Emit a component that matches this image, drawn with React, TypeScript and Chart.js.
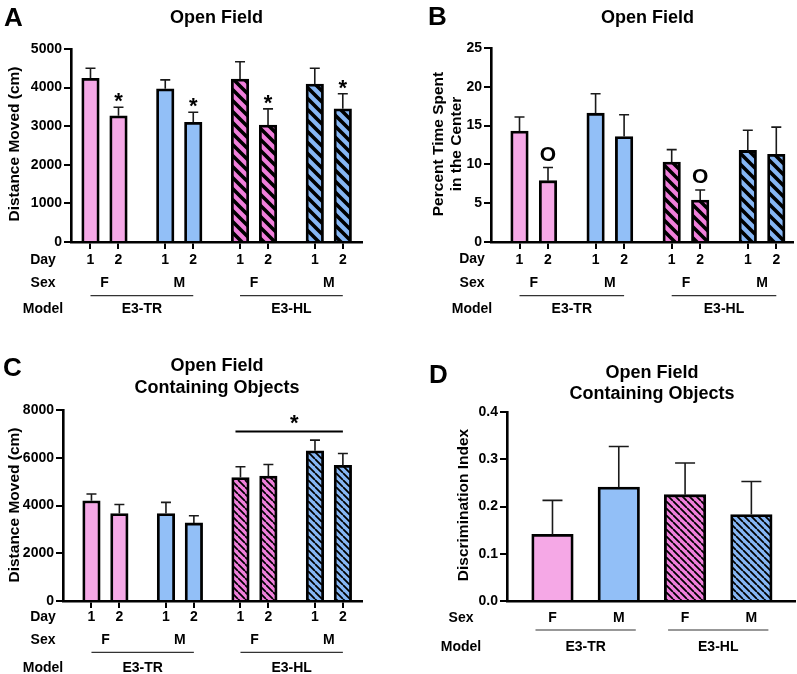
import React, { useEffect, useRef } from 'react';
import { Chart, registerables } from 'chart.js';

Chart.register(...registerables);

// ---------------- data ----------------
const dayLabels = ['1', '2', '1', '2', '1', '2', '1', '2'];
const sexLabels = ['F', 'M', 'F', 'M'];
const modelLabels = ['E3-TR', 'E3-HL'];
const rowNamesFull = ['Day', 'Sex', 'Model'];
const rowNamesShort = ['Sex', 'Model'];

// A: Open Field, distance moved (cm)
const distanceOF = [4240, 3270, 3970, 3100, 4220, 3030, 4090, 3450];
const distanceOFSem = [260, 220, 230, 260, 450, 420, 410, 390];
// B: Open Field, percent time in center
const centerTime = [14.3, 7.9, 16.6, 13.6, 10.3, 5.4, 11.8, 11.3];
const centerTimeSem = [1.8, 1.7, 2.5, 2.8, 1.6, 1.3, 2.6, 3.5];
// C: Open Field containing objects, distance moved (cm)
const distanceObj = [4200, 3660, 3660, 3270, 5170, 5230, 6290, 5680];
const distanceObjSem = [280, 380, 470, 300, 450, 490, 450, 500];
// D: discrimination index
const discrimination = [0.141, 0.241, 0.225, 0.183];
const discriminationSem = [0.072, 0.086, 0.067, 0.07];

const fills8 = ['pink', 'pink', 'blue', 'blue', 'pinkHatch', 'pinkHatch', 'blueHatch', 'blueHatch'];
const fills4 = ['pink', 'blue', 'pinkHatch', 'blueHatch'];

const starSymbol = '*';
const ringSymbol = 'O';
const bracketValueC = 7100;

// ---------------- styling ----------------
const FONT = "'Liberation Sans', Arial, Helvetica, sans-serif";
const PINK = '#F5A8E6';
const PINK_H = '#F07FDB';
const BLUE = '#92BFF7';
const BLUE_H = '#86B6F4';

const pairPos = (n: number, gap: number) =>
  Array.from({ length: n }, (_, i) => Math.floor(i / 2) * gap + (i % 2));
const seqPos = (n: number) => Array.from({ length: n }, (_, i) => i);

function hatch(base: string, period: number, lw: number): CanvasPattern {
  const c = document.createElement('canvas');
  c.width = period;
  c.height = period;
  const g = c.getContext('2d')!;
  g.fillStyle = base;
  g.fillRect(0, 0, period, period);
  g.strokeStyle = '#000';
  g.lineWidth = lw;
  g.lineCap = 'square';
  g.beginPath();
  for (const k of [-1, 0, 1]) {
    g.moveTo(k * period, 0);
    g.lineTo(k * period + period, period);
  }
  g.stroke();
  return g.createPattern(c, 'repeat')!;
}

const panels: any[] = [
  {
    values: distanceOF, sems: distanceOFSem, positions: pairPos(8, 2.67), tickLabels: dayLabels, fills: fills8,
    canvas: { left: 0, top: 0, width: 400, height: 340 },
    area: { left: 71, top: 49, right: 362, bottom: 242 },
    xMin: -0.696, xMax: 9.696, yMax: 5000, yStep: 1000, dec: 0,
    bar: 17.5, cap: 10, hp: 11, hw: 3.6, tickPad: 2.6, tickColor: '#000',
    letter: 'A', letterX: 4, letterY: 25.5,
    title: ['Open Field'], titleX: 216.5, titleY: [23],
    yTitle: ['Distance Moved (cm)'], yTitleX: [18.5], yTitleY: 144,
    rowNames: rowNamesFull, rowX: 43, rowY: [260, 283, 309],
    sexY: 283, lineY: 295.7, modelY: 309, lineExt: 0,
    markers: { idx: [1, 3, 5, 7], text: starSymbol, size: 22, dy: 1 },
  },
  {
    values: centerTime, sems: centerTimeSem, positions: pairPos(8, 2.67), tickLabels: dayLabels, fills: fills8,
    canvas: { left: 400, top: 0, width: 397, height: 340 },
    area: { left: 91, top: 48, right: 393, bottom: 242 },
    xMin: -1.0, xMax: 9.596, yMax: 25, yStep: 5, dec: 0,
    bar: 17.5, cap: 10, hp: 11, hw: 3.6, tickPad: 2.6, tickColor: '#000',
    letter: 'B', letterX: 28, letterY: 25,
    title: ['Open Field'], titleX: 247.5, titleY: [23],
    yTitle: ['Percent Time Spent', 'in the Center'], yTitleX: [42.8, 61.3], yTitleY: 144,
    rowNames: rowNamesFull, rowX: 72, rowY: [259, 283, 309],
    sexY: 283, lineY: 295.7, modelY: 309, lineExt: 0,
    markers: { idx: [1, 5], text: ringSymbol, size: 21, dy: -7 },
  },
  {
    values: distanceObj, sems: distanceObjSem, positions: pairPos(8, 2.67), tickLabels: dayLabels, fills: fills8,
    canvas: { left: 0, top: 340, width: 400, height: 334 },
    area: { left: 63, top: 70, right: 362, bottom: 261 },
    xMin: -1.02, xMax: 9.695, yMax: 8000, yStep: 2000, dec: 0,
    bar: 17.5, cap: 10, hp: 7.4, hw: 1.8, tickPad: 0.3, tickColor: '#000',
    letter: 'C', letterX: 3, letterY: 36,
    title: ['Open Field', 'Containing Objects'], titleX: 217, titleY: [31, 53],
    yTitle: ['Distance Moved (cm)'], yTitleX: [18.5], yTitleY: 165,
    rowNames: rowNamesFull, rowX: 43, rowY: [276.7, 300, 328],
    sexY: 300, lineY: 312.3, modelY: 328, lineExt: 0,
    bracket: { from: 4, to: 7, value: bracketValueC, text: starSymbol, size: 22 },
  },
  {
    values: discrimination, sems: discriminationSem, positions: seqPos(4), tickLabels: sexLabels, fills: fills4,
    canvas: { left: 400, top: 340, width: 397, height: 334 },
    area: { left: 107, top: 72, right: 395, bottom: 261 },
    xMin: -0.686, xMax: 3.658, yMax: 0.4, yStep: 0.1, dec: 1,
    bar: 41.5, cap: 20, hp: 7.4, hw: 1.8, tickPad: 1.6, tickColor: 'rgba(0,0,0,0)',
    letter: 'D', letterX: 29, letterY: 43,
    title: ['Open Field', 'Containing Objects'], titleX: 252, titleY: [38, 59],
    yTitle: ['Discrimination Index'], yTitleX: [67.7], yTitleY: 165,
    rowNames: rowNamesShort, rowX: 61, rowY: [278, 306.7],
    sexY: null, lineY: 290, modelY: 306.7, lineExt: 17,
  },
];

function createPanel(canvas: HTMLCanvasElement, p: any): Chart {
  const fillMap: Record<string, any> = {
    pink: PINK,
    blue: BLUE,
    pinkHatch: hatch(PINK_H, p.hp, p.hw),
    blueHatch: hatch(BLUE_H, p.hp, p.hw),
  };
  const n = p.values.length;
  const decor = {
    id: 'decor' + p.letter,
    afterDatasetsDraw(chart: any) {
      const ctx = chart.ctx;
      const ys = chart.scales.y;
      const meta = chart.getDatasetMeta(0);
      ctx.save();
      ctx.strokeStyle = '#1a1a1a';
      ctx.lineWidth = 1.6;
      meta.data.forEach((el: any, i: number) => {
        const yTop = ys.getPixelForValue(p.values[i] + p.sems[i]);
        ctx.beginPath();
        ctx.moveTo(el.x, el.y);
        ctx.lineTo(el.x, yTop);
        ctx.moveTo(el.x - p.cap / 2, yTop);
        ctx.lineTo(el.x + p.cap / 2, yTop);
        ctx.stroke();
      });
      ctx.restore();
    },
    afterDraw(chart: any) {
      const ctx = chart.ctx;
      const xs = chart.scales.x;
      const ys = chart.scales.y;
      const px = (i: number) => xs.getPixelForValue(p.positions[i]);
      ctx.save();
      ctx.fillStyle = '#000';
      ctx.font = `bold 26px ${FONT}`;
      ctx.textAlign = 'left';
      ctx.textBaseline = 'alphabetic';
      ctx.fillText(p.letter, p.letterX, p.letterY);
      ctx.font = `bold 18px ${FONT}`;
      ctx.textAlign = 'center';
      p.title.forEach((t: string, k: number) => ctx.fillText(t, p.titleX, p.titleY[k]));
      ctx.font = `bold 15.5px ${FONT}`;
      p.yTitle.forEach((t: string, k: number) => {
        ctx.save();
        ctx.translate(p.yTitleX[k], p.yTitleY);
        ctx.rotate(-Math.PI / 2);
        ctx.textAlign = 'center';
        ctx.textBaseline = 'alphabetic';
        ctx.fillText(t, 0, 0);
        ctx.restore();
      });
      ctx.font = `bold 14px ${FONT}`;
      ctx.textAlign = 'center';
      ctx.textBaseline = 'middle';
      p.rowNames.forEach((t: string, k: number) => ctx.fillText(t, p.rowX, p.rowY[k]));
      if (p.sexY !== null) {
        for (let k = 0; k < n / 2; k++) {
          ctx.fillText(sexLabels[k], (px(2 * k) + px(2 * k + 1)) / 2, p.sexY);
        }
      }
      const per = n / 2;
      ctx.strokeStyle = '#333';
      ctx.lineWidth = 1.2;
      for (let g = 0; g < 2; g++) {
        const x1 = px(g * per) - p.lineExt;
        const x2 = px(g * per + per - 1) + p.lineExt;
        ctx.beginPath();
        ctx.moveTo(x1, p.lineY);
        ctx.lineTo(x2, p.lineY);
        ctx.stroke();
        ctx.fillText(modelLabels[g], (x1 + x2) / 2, p.modelY);
      }
      ctx.textAlign = 'center';
      ctx.textBaseline = 'alphabetic';
      if (p.markers) {
        ctx.font = `bold ${p.markers.size}px ${FONT}`;
        p.markers.idx.forEach((i: number) => {
          const yTop = ys.getPixelForValue(p.values[i] + p.sems[i]);
          ctx.fillText(p.markers.text, px(i), yTop + p.markers.dy);
        });
      }
      if (p.bracket) {
        const b = p.bracket;
        const y = ys.getPixelForValue(b.value);
        const x1 = px(b.from) - 5;
        const x2 = px(b.to);
        ctx.strokeStyle = '#000';
        ctx.lineWidth = 2;
        ctx.beginPath();
        ctx.moveTo(x1, y);
        ctx.lineTo(x2, y);
        ctx.stroke();
        ctx.font = `bold ${b.size}px ${FONT}`;
        ctx.fillText(b.text, (x1 + x2) / 2 + 5, y - 1);
      }
      ctx.restore();
    },
  };

  const tickFont = { family: FONT, size: 14, weight: 'bold' as const };
  return new Chart(canvas, {
    type: 'bar',
    data: {
      datasets: [
        {
          data: p.values.map((v: number, i: number) => ({ x: p.positions[i], y: v })),
          backgroundColor: p.fills.map((f: string) => fillMap[f]),
          borderColor: '#000',
          borderWidth: 2.8,
          borderSkipped: 'start',
          barThickness: p.bar,
        },
      ],
    },
    options: {
      animation: false,
      responsive: false,
      devicePixelRatio: 1,
      layout: {
        padding: {
          top: p.area.top,
          right: p.canvas.width - p.area.right,
          left: 0,
          bottom: 0,
        },
      },
      plugins: { legend: { display: false }, tooltip: { enabled: false }, title: { display: false } },
      scales: {
        x: {
          type: 'linear',
          offset: false,
          min: p.xMin,
          max: p.xMax,
          afterBuildTicks: (scale: any) => {
            scale.ticks = p.positions.map((v: number) => ({ value: v }));
          },
          afterFit: (scale: any) => {
            scale.height = p.canvas.height - p.area.bottom;
          },
          ticks: {
            autoSkip: false,
            maxRotation: 0,
            minRotation: 0,
            padding: p.tickPad,
            color: '#000',
            font: tickFont,
            callback: (_v: any, i: number) => p.tickLabels[i],
          },
          grid: { offset: false, drawOnChartArea: false, drawTicks: true, tickLength: 7, color: p.tickColor, lineWidth: 2 },
          border: { display: true, color: '#000', width: 2.6 },
        },
        y: {
          type: 'linear',
          min: 0,
          max: p.yMax,
          afterFit: (scale: any) => {
            scale.width = p.area.left;
          },
          ticks: {
            stepSize: p.yStep,
            padding: 2,
            color: '#000',
            font: tickFont,
            callback: (v: any) => Number(v).toFixed(p.dec),
          },
          grid: { drawOnChartArea: false, drawTicks: true, tickLength: 7, color: '#000', lineWidth: 2 },
          border: { display: true, color: '#000', width: 2.6 },
        },
      },
    },
    plugins: [decor],
  } as any);
}

export default function App() {
  const r0 = useRef<HTMLCanvasElement>(null);
  const r1 = useRef<HTMLCanvasElement>(null);
  const r2 = useRef<HTMLCanvasElement>(null);
  const r3 = useRef<HTMLCanvasElement>(null);
  const refs = [r0, r1, r2, r3];
  useEffect(() => {
    const charts = panels.map((p, i) => createPanel(refs[i].current!, p));
    return () => charts.forEach((c) => c.destroy());
  }, []);
  return (
    <div style={{ position: 'fixed', left: 0, top: 0, width: 797, height: 674, background: '#fff' }}>
      {panels.map((p, i) => (
        <canvas
          key={i}
          ref={refs[i]}
          width={p.canvas.width}
          height={p.canvas.height}
          style={{ position: 'absolute', left: p.canvas.left, top: p.canvas.top, width: p.canvas.width, height: p.canvas.height }}
        />
      ))}
    </div>
  );
}
